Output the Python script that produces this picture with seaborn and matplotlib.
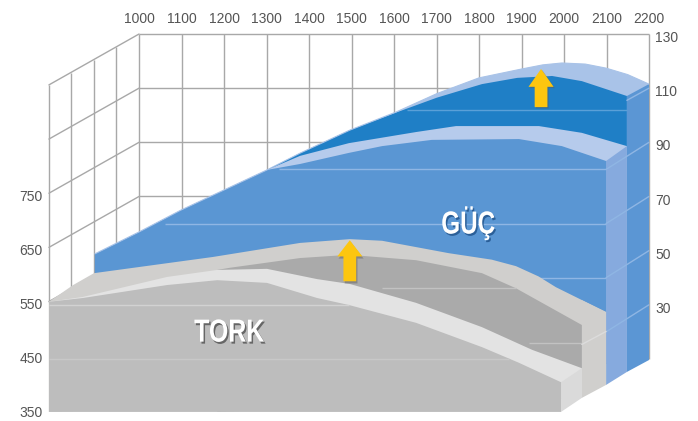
import matplotlib
matplotlib.use("Agg")
import matplotlib.pyplot as plt
import matplotlib.patheffects as pe
from matplotlib.colors import to_rgb
from matplotlib.transforms import Affine2D
import numpy as np
import seaborn as sns

# axis labels
rpm_ticks = [1000, 1100, 1200, 1300, 1400, 1500, 1600, 1700, 1800, 1900, 2000, 2100, 2200]
power_ticks = [130, 110, 90, 70, 50, 30]
torque_ticks = [750, 650, 550, 450, 350]

# power surface (rpm, power scale)
top_rpm = [896, 1000, 1099, 1301, 1379, 1496, 1605, 1701, 1800, 1901, 1950, 1995, 2050, 2099, 2150, 2200]
top_val = [48.8, 56.9, 65.0, 79.8, 86.0, 94.5, 101.2, 108.0, 113.8, 117.1, 118.6, 119.3, 118.9, 117.4, 115.0, 111.5]
band_rpm = [1301, 1379, 1496, 1605, 1701, 1807, 1890, 1972, 2042, 2148]
band_val = [79.8, 86.0, 94.5, 101.0, 106.5, 111.5, 113.8, 114.5, 112.6, 107.1]
strip_rpm = [1301, 1379, 1494, 1652, 1746, 1941, 2042, 2148]
strip_val = [79.8, 85.0, 89.7, 93.8, 96.0, 96.0, 93.5, 88.6]
front_rpm = [896, 1000, 1099, 1301, 1379, 1494, 1572, 1689, 1894, 1995, 2099]
front_val = [48.8, 56.9, 65.0, 79.8, 82.0, 86.1, 88.6, 90.9, 91.2, 88.6, 83.1]

# torque surface (rpm, torque scale)
back_rpm = [788, 845, 894, 1174, 1379, 1496, 1572, 1729, 1830, 1887, 1940, 1981, 2099]
back_val = [556, 587, 609, 639, 665, 672, 669, 646, 634, 622, 603, 583, 537]
dark_rpm = [1184, 1214, 1379, 1494, 1652, 1807, 1887, 2042]
dark_val = [615, 619, 637, 643, 633, 609, 581, 513]
lip_rpm = [788, 868, 1066, 1184, 1301, 1419, 1496, 1652, 1807, 1925, 2042]
lip_val = [556, 565, 602, 615, 617, 598, 589, 554, 509, 467, 433]
face_rpm = [788, 868, 1066, 1184, 1301, 1419, 1494, 1652, 1807, 1894, 1993]
face_val = [556, 563, 587, 596, 591, 563, 550, 517, 472, 443, 407]

wall_rpm = [946, 894, 840, 788]
wall_top = [125.2, 120.4, 115.6, 111.2]

sns.set_theme(style="white")
plt.rcParams['font.family'] = ['Liberation Sans', 'DejaVu Sans']


class SqueezedShadow(pe.AbstractPathEffect):
    # narrows the glyphs around a centre and puts a drop shadow under them
    def __init__(self, cx, scale, shadow):
        super().__init__()
        self.cx = cx
        self.scale = scale
        self.shadow = to_rgb(shadow)

    def draw_path(self, renderer, gc, tpath, affine, rgbFace=None):
        squeeze = affine + Affine2D().translate(-self.cx, 0).scale(self.scale, 1).translate(self.cx, 0)
        renderer.draw_path(gc, tpath, squeeze + Affine2D().translate(1.5, -2), self.shadow)
        renderer.draw_path(gc, tpath, squeeze, rgbFace)


def fill_down(ax, x, y, base_left, base_right, color):
    xs = list(x) + [x[-1], x[0]]
    ys = list(y) + [base_right, base_left]
    ax.fill(xs, ys, color=color, lw=0)


def arrow(ax, x, y0, y1, w, hw, hl, dx, dy):
    ax.arrow(x + dx, y0 + dy, 0, y1 - y0, width=w, head_width=hw, head_length=hl,
             length_includes_head=True, color='#5a5a5a', alpha=0.45, lw=0)
    ax.arrow(x, y0, 0, y1 - y0, width=w, head_width=hw, head_length=hl,
             length_includes_head=True, color='#fdc60f', lw=0)


fig = plt.figure(figsize=(6.98, 4.21), dpi=100)
ax = fig.add_axes([0, 0, 1, 1])

# back and left walls, under everything
grid_col = '#a8a8a8'
ax.vlines(rpm_ticks, 10, 130, color=grid_col, lw=1, zorder=0.5)
ax.hlines([130, 110, 90, 70, 50], 1000, 2200, color=grid_col, lw=1, zorder=0.5)
ax.vlines(wall_rpm, [31] * 4, wall_top, color=grid_col, lw=1, zorder=0.5)
for v in [130, 110, 90, 70, 50]:
    ax.plot([1000, 788], [v, v - 18.8], color=grid_col, lw=1, zorder=0.5)

# power surface
fill_down(ax, top_rpm[3:], top_val[3:], 60, 9.6, '#a9c3e8')
fill_down(ax, band_rpm, band_val, 60, 5.2, '#1f7fc6')
ax.hlines(102, 1630, 2148, color='#5aa0d8', lw=1, zorder=1.1)
fill_down(ax, strip_rpm, strip_val, 60, 5.2, '#b6cbec')
ax.fill([2148, 2200, 2200, 2148], [107.1, 111.5, 9.6, 5.2], color='#5b96d4', lw=0)
ax.fill([2099, 2148, 2148, 2099], [83.1, 88.6, 5.2, 0.4], color='#86aade', lw=0)
fill_down(ax, front_rpm, front_val, 0.4, 0.4, '#5a96d3')
sns.lineplot(x=top_rpm, y=top_val, ax=ax, color='#a9c3e8', lw=0.8, sort=False, errorbar=None)

line_col = '#8fb6e4'
for v, start in zip([80, 60, 40], [1330, 1060, 1600]):
    ax.hlines(v, start, 2099, color=line_col, lw=1)
for v in [80, 60, 40, 20]:
    ax.plot([2099, 2200], [v, v + 10], color=line_col, lw=1)
ax.plot([2148, 2200], [105.5, 110], color=line_col, lw=1)

arrow(ax, 1946, 103, 117.1, 30, 59, 6.6, 3, -0.5)
ax.text(1774, 60, 'GÜÇ', color='white', fontsize=23, fontweight='bold', ha='center', va='center',
        path_effects=[SqueezedShadow(469, 0.76, '#2b5f98')])

for v in power_ticks:
    ax.text(2214, v - 1.5, str(v), color='#555555', fontsize=10, ha='left', va='center')
for r in rpm_ticks:
    ax.text(r, 135.5, str(r), color='#555555', fontsize=10, ha='center', va='center')

# torque surface goes on its own scale, over the power one
ax2 = ax.twinx()
fill_down(ax2, back_rpm, back_val, 352, 402, '#d0cfcd')
ax2.fill([2042, 2099, 2099, 2042], [559, 537, 402, 378], color='#d0cfcd', lw=0)
fill_down(ax2, dark_rpm, dark_val, 352, 378, '#aaaaaa')
ax2.hlines(581, 1572, 1887, color='#c2c2c2', lw=1, zorder=1.1)
ax2.hlines(479, 1917, 2042, color='#c2c2c2', lw=1, zorder=1.1)
ax2.plot([2042, 2099], [477, 501], color='#dcdcdc', lw=1, zorder=1.1)
fill_down(ax2, lip_rpm, lip_val, 352, 378, '#e3e3e3')
ax2.fill([1993, 2042, 2042, 1993], [407, 433, 378, 352], color='#dadada', lw=0)
fill_down(ax2, face_rpm, face_val, 352, 352, '#bdbdbd')
ax2.hlines(550, 788, 1494, color='#d2d2d2', lw=1)
ax2.hlines(450, 788, 1870, color='#c8c8c8', lw=1)

arrow(ax2, 1496, 594, 670, 30, 59, 30, 3, -4)
ax2.text(1212, 497, 'TORK', color='white', fontsize=23, fontweight='bold', ha='center', va='center',
         path_effects=[SqueezedShadow(230, 0.78, '#666666')])

for t in torque_ticks:
    ax2.text(774, t, str(t), color='#555555', fontsize=10, ha='right', va='center')

ax.set_xlim(672.9, 2315.3)
ax.set_ylim(-12.92, 142.56)
ax2.set_ylim(335.2, 1114.9)
ax.set_axis_off()
ax2.set_axis_off()

fig.savefig('out.png', dpi=100)
